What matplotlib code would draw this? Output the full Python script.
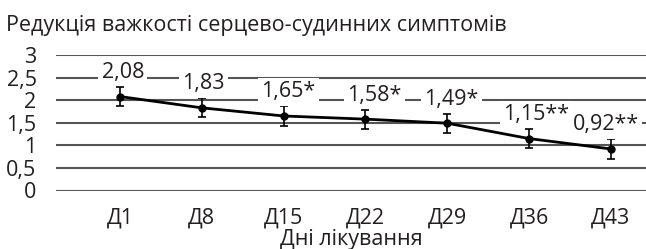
import matplotlib
matplotlib.use("Agg")
import matplotlib.pyplot as plt

categories = ["Д1", "Д8", "Д15", "Д22", "Д29", "Д36", "Д43"]
values = [2.08, 1.83, 1.65, 1.58, 1.49, 1.15, 0.92]
errors = [0.22, 0.21, 0.22, 0.21, 0.21, 0.22, 0.22]
labels = ["2,08", "1,83", "1,65*", "1,58*", "1,49*", "1,15**", "0,92**"]
yticks = [0, 0.5, 1, 1.5, 2, 2.5, 3]
yticklabels = ["0", "0,5", "1", "1,5", "2", "2,5", "3"]
title = "Редукція важкості серцево-судинних симптомів"
xlabel = "Дні лікування"

# layout: horizontal nudges of value labels (pixels)
label_dx = [3, 2, 5, 9, 4, 7, -5]

plt.rcParams['font.family'] = ['Open Sans', 'DejaVu Sans']
FS = 15.5
TC = "#231f20"

fig = plt.figure(figsize=(6.46, 2.49), dpi=100)
ax = fig.add_axes([56/646, 1-190.5/249, 1-56/646, (190.5-55)/249])

x = list(range(len(categories)))
for t in yticks:
    ax.axhline(t, color="#555555", lw=1.5, zorder=1)

ax.errorbar(x, values, yerr=errors, color="black", lw=2, marker="o", ms=5,
            ecolor="black", elinewidth=1.2, capsize=3, capthick=1.2, zorder=3)

for xi, v, lab, dx in zip(x, values, labels, label_dx):
    ax.annotate(lab, (xi, v), xytext=(dx, 24), textcoords="offset pixels",
                ha="center", va="center", fontsize=FS, color=TC,
                bbox=dict(boxstyle="square,pad=0.15", fc="white", ec="none"),
                zorder=4)

ax.set_xlim(-0.782, 6.43)
ax.set_ylim(0, 3)
ax.set_yticks(yticks)
ax.set_yticklabels(yticklabels, fontsize=FS, color=TC)
ax.set_xticks(x)
ax.set_xticklabels(categories, fontsize=FS, color=TC)
ax.tick_params(length=0)
ax.tick_params(axis="y", pad=14)
ax.tick_params(axis="x", pad=12)
for s in ax.spines.values():
    s.set_visible(False)
ax.set_xlabel(xlabel, fontsize=FS, color=TC, va="center")
ax.xaxis.set_label_coords(0.5, -(240 - 190.5) / (190.5 - 55))

fig.text(6/646, 1-25/249, title, fontsize=FS, color=TC, ha="left", va="center")

fig.savefig("out.png", dpi=100)
